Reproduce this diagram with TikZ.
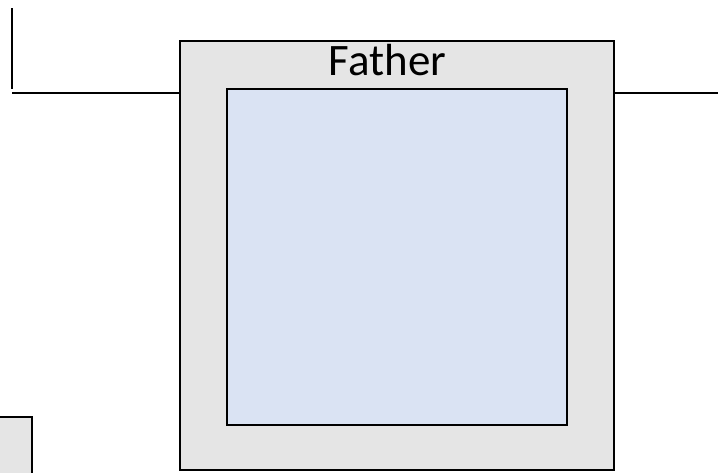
\documentclass[tikz,border=0pt]{standalone}
\usepackage{fontspec}
\setmainfont{Carlito}
\definecolor{boxgray}{HTML}{E5E5E5}
\definecolor{boxblue}{HTML}{DAE3F3}
\begin{document}
\begin{tikzpicture}[x=1pt,y=-1pt,
  outerbox/.style={draw=black,fill=boxgray,line width=2pt,rectangle,inner sep=0pt},
  innerbox/.style={draw=black,fill=boxblue,line width=2pt,rectangle,inner sep=0pt},
  wire/.style={draw=black,line width=2pt},
  lbl/.style={font=\fontsize{45}{52}\selectfont,inner sep=0pt,anchor=base}]
\useasboundingbox (0,0) rectangle (718,472);
\begin{scope}
\clip (0,0) rectangle (718,472);
\node[outerbox,minimum width=434pt,minimum height=429pt] (father) at (397,255.5) {};
\node[innerbox,minimum width=340pt,minimum height=336.5pt] (inner) at (397,256.75) {};
\node[lbl] (title) at (387.5,75.5) {Father};
\node[outerbox,minimum width=50pt,minimum height=80pt] (side) at (7,457) {};
\coordinate (vtop) at (11.7,8);
\coordinate (vbot) at (11.7,89);
\coordinate (hl) at (12,92.5);
\coordinate (hr) at (730,92.5);
\draw[wire] (vtop) -- (vbot);
\draw[wire] (hl) -- (hl -| father.west);
\draw[wire] (hr -| father.east) -- (hr);
\end{scope}
\end{tikzpicture}
\end{document}
